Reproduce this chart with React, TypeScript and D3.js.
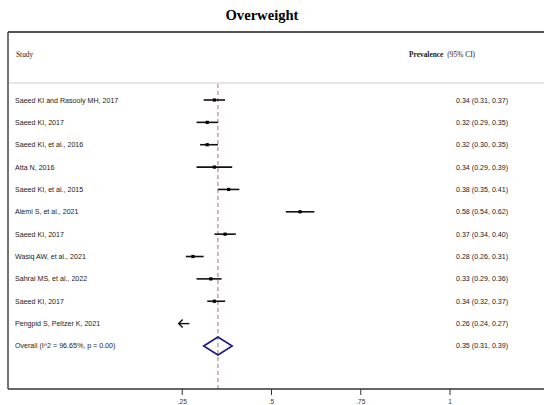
import * as d3 from "d3";

// study rows
const studies = [
  "Saeed KI and Rasooly MH, 2017",
  "Saeed KI, 2017",
  "Saeed KI, et al., 2016",
  "Atta N, 2016",
  "Saeed KI, et al., 2015",
  "Alemi S, et al., 2021",
  "Saeed KI, 2017",
  "Wasiq AW, et al., 2021",
  "Sahrai MS, et al., 2022",
  "Saeed KI, 2017",
  "Pengpid S, Peltzer K, 2021",
];
const estimates = [0.34, 0.32, 0.32, 0.34, 0.38, 0.58, 0.37, 0.28, 0.33, 0.34, 0.26];
const lower = [0.31, 0.29, 0.3, 0.29, 0.35, 0.54, 0.34, 0.26, 0.29, 0.32, 0.24];
const upper = [0.37, 0.35, 0.35, 0.39, 0.41, 0.62, 0.4, 0.31, 0.36, 0.37, 0.27];
// studies whose CI runs off the axis get an arrow instead of a point
const clipped = [false, false, false, false, false, false, false, false, false, false, true];

const overallLabel = "Overall  (I^2 = 96.65%, p = 0.00)";
const overall = { est: 0.35, lo: 0.31, hi: 0.39 };

const xTicks = [0.25, 0.5, 0.75, 1];
const xTickLabels = [".25", ".5", ".75", "1"];

const W = 544;
const H = 405;
const sans = "'Liberation Sans', Arial, sans-serif";
const serif = "'Liberation Serif', 'Times New Roman', serif";
const fmt = d3.format(".2f");
const ink = "#1a1a1a";

export default function App() {
  const x = d3.scaleLinear().domain([0, 1]).range([93, 450]);
  const y = d3
    .scaleLinear()
    .domain([0, studies.length])
    .range([100, 100 + 22.36 * studies.length]);

  const axisY = 389;
  const frameLeft = 8;
  const frameTop = 32;

  return (
    <svg
      width={W}
      height={H}
      style={{ position: "absolute", left: 0, top: 0, background: "#fff" }}
    >
      <text
        x={262}
        y={20}
        textAnchor="middle"
        fontFamily={serif}
        fontWeight="bold"
        fontSize={14.6}
        fill="#000"
      >
        Overweight
      </text>

      {/* frame */}
      <line x1={frameLeft} x2={W} y1={frameTop} y2={frameTop} stroke="#555" strokeWidth={2} />
      <line x1={frameLeft} x2={frameLeft} y1={frameTop} y2={axisY} stroke="#444" strokeWidth={1.5} />
      <line x1={frameLeft + 1} x2={W} y1={83} y2={83} stroke="#ddd" strokeWidth={1.5} />

      <text x={16} y={57} fontFamily={serif} fontSize={7.4} fill={ink}>
        Study
      </text>
      <text x={409} y={57} fontFamily={serif} fontSize={7.4} fill={ink}>
        <tspan fontWeight="bold">Prevalence</tspan>
        <tspan dx={4}>(95% CI)</tspan>
      </text>

      {/* reference line at pooled estimate */}
      <line
        x1={x(overall.est)}
        x2={x(overall.est)}
        y1={84}
        y2={axisY}
        stroke="#a0727c"
        strokeWidth={1}
        strokeDasharray="4,3"
      />

      {studies.map((s, i) => {
        const cy = y(i);
        return (
          <g key={i}>
            <text x={15} y={cy + 2.5} fontFamily={sans} fontSize={7.1} fill={ink}>
              {s}
            </text>
            {clipped[i] ? (
              <g stroke="#111" strokeWidth={1.4} fill="none">
                <line x1={x(lower[i])} x2={x(upper[i])} y1={cy} y2={cy} />
                <polyline
                  points={`${x(lower[i]) + 4},${cy - 4} ${x(lower[i])},${cy} ${x(lower[i]) + 4},${cy + 4}`}
                />
              </g>
            ) : (
              <g>
                <line
                  x1={x(lower[i])}
                  x2={x(upper[i])}
                  y1={cy}
                  y2={cy}
                  stroke="#111"
                  strokeWidth={1.6}
                />
                <rect
                  x={x(estimates[i]) - 1.6}
                  y={cy - 1.6}
                  width={3.2}
                  height={3.2}
                  fill="#000"
                />
              </g>
            )}
            <text x={456} y={cy + 2.5} fontFamily={sans} fontSize={7.1} fill={ink}>
              {`${fmt(estimates[i])} (${fmt(lower[i])}, ${fmt(upper[i])})`}
            </text>
          </g>
        );
      })}

      {/* pooled estimate */}
      {(() => {
        const cy = y(studies.length);
        const pts = [
          [x(overall.lo), cy],
          [x(overall.est), cy - 9],
          [x(overall.hi), cy],
          [x(overall.est), cy + 9],
        ];
        return (
          <g>
            <text x={15} y={cy + 2.5} fontFamily={sans} fontSize={7.1} fill={ink}>
              {overallLabel}
            </text>
            <polygon
              points={pts.map((p) => p.join(",")).join(" ")}
              fill="none"
              stroke="#1a1a80"
              strokeWidth={1.6}
            />
            <text x={456} y={cy + 2.5} fontFamily={sans} fontSize={7.1} fill={ink}>
              {`${fmt(overall.est)} (${fmt(overall.lo)}, ${fmt(overall.hi)})`}
            </text>
          </g>
        );
      })()}

      {/* x axis */}
      <line x1={frameLeft} x2={W} y1={axisY} y2={axisY} stroke="#333" strokeWidth={1.5} />
      {xTicks.map((t, i) => (
        <g key={t}>
          <line x1={x(t)} x2={x(t)} y1={axisY} y2={axisY + 6} stroke="#333" strokeWidth={1} />
          <text
            x={x(t)}
            y={403.5}
            textAnchor="middle"
            fontFamily={sans}
            fontSize={6.5}
            fill="#333"
          >
            {xTickLabels[i]}
          </text>
        </g>
      ))}
    </svg>
  );
}
